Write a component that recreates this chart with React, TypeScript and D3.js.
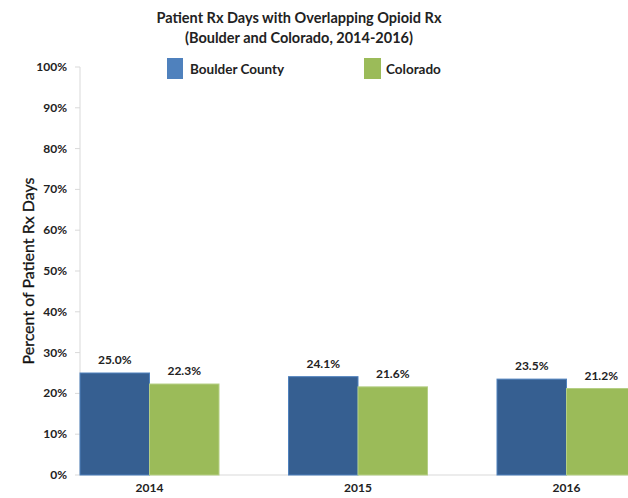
import React from "react";
import * as d3 from "d3";

const categories = ["2014", "2015", "2016"];
const seriesNames = ["Boulder County", "Colorado"];
const boulder = [25.0, 24.1, 23.5];
const colorado = [22.3, 21.6, 21.2];
const yTicks = [0, 10, 20, 30, 40, 50, 60, 70, 80, 90, 100];

const W = 628;
const H = 498;
const FONT = "Lato, 'Open Sans', sans-serif";

export default function App() {
  const y = d3.scaleLinear().domain([0, 100]).range([475, 67]);
  const x = d3.scaleBand().domain(categories).range([80, 636]).paddingInner(1 / 3).paddingOuter(0);
  const xs = d3.scaleBand().domain(seriesNames).range([0, x.bandwidth()]);
  const series = [
    { name: seriesNames[0], values: boulder, fill: "#365f91", stroke: "#4f81bd" },
    { name: seriesNames[1], values: colorado, fill: "#9bbb59", stroke: "#b5cf85" },
  ];
  return (
    <svg width={W} height={H} style={{ position: "absolute", left: 0, top: 0, background: "#fff" }}>
      <g fontFamily={FONT} fontWeight="bold" fill="#222" textAnchor="middle" fontSize={14.5}>
        <text x={299} y={23}>Patient Rx Days with Overlapping Opioid Rx</text>
        <text x={299} y={43}>(Boulder and Colorado, 2014-2016)</text>
      </g>
      {/* legend */}
      <g fontFamily={FONT} fontWeight="bold" fontSize={13.5} fill="#222">
        <rect x={167} y={58} width={16} height={21} fill="#4f81bd" />
        <text x={190} y={74}>Boulder County</text>
        <rect x={364} y={58} width={17} height={21} fill="#9bbb59" />
        <text x={386} y={74}>Colorado</text>
      </g>
      {/* y axis */}
      <line x1={80} x2={80} y1={y(100)} y2={y(0)} stroke="#d9d9d9" strokeWidth={1} />
      {yTicks.map((t) => (
        <g key={t}>
          <line x1={75} x2={80} y1={y(t)} y2={y(t)} stroke="#d9d9d9" />
          <text x={67} y={y(t) + 4} textAnchor="end" fontFamily={FONT} fontWeight="bold" fontSize={12} fill="#222">
            {t}%
          </text>
        </g>
      ))}
      <line x1={80} x2={W} y1={y(0)} y2={y(0)} stroke="#d9d9d9" />
      <text
        transform={`translate(34,271) rotate(-90)`}
        textAnchor="middle"
        fontFamily={FONT}
        fontWeight="normal"
        fontSize={16}
        fill="#111"
        stroke="#111"
        strokeWidth={0.3}
      >
        Percent of Patient Rx Days
      </text>
      {/* bars */}
      {series.map((s) =>
        categories.map((c, i) => {
          const bx = (x(c) as number) + (xs(s.name) as number);
          const v = s.values[i];
          return (
            <g key={s.name + c}>
              <rect x={bx} y={y(v)} width={xs.bandwidth()} height={y(0) - y(v)} fill={s.fill} stroke={s.stroke} strokeWidth={1} />
              <text x={bx + xs.bandwidth() / 2} y={y(v) - 9} textAnchor="middle" fontFamily={FONT} fontWeight="bold" fontSize={12} fill="#222">
                {v.toFixed(1)}%
              </text>
            </g>
          );
        })
      )}
      {categories.map((c) => (
        <text key={c} x={(x(c) as number) + x.bandwidth() / 2} y={492} textAnchor="middle" fontFamily={FONT} fontWeight="bold" fontSize={12} fill="#222">
          {c}
        </text>
      ))}
    </svg>
  );
}
